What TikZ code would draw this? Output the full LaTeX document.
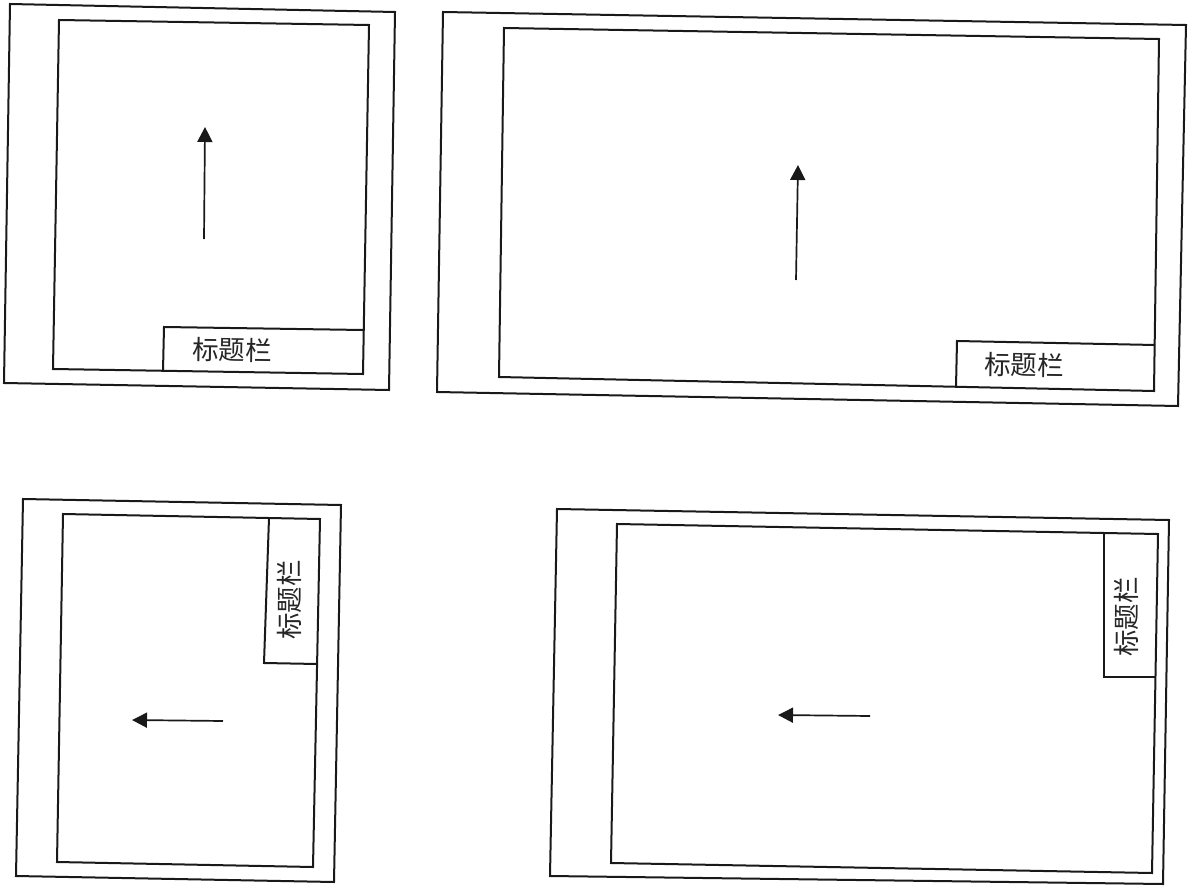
\documentclass[tikz,border=0pt]{standalone}
\usepackage{fontspec}
\newfontfamily\cjk{Noto Sans CJK SC}
\usetikzlibrary{arrows.meta}
\begin{document}
\begin{tikzpicture}[x=1pt,y=-1pt,
  frame/.style={draw=black!90, line width=2pt, line join=miter},
  dirarrow/.style={draw=black!90, line width=1.7pt, -{Triangle[width=15pt,length=15pt]}},
  titletext/.style={font=\cjk\fontsize{26.5}{26.5}\selectfont, inner sep=0pt, text=black!85}]
\useasboundingbox[fill=white] (0,0) rectangle (1189,896);

% ---------- Frame 1 (top left) ----------
\draw[frame] (10,4) -- (395,12) -- (389,390) -- (4,383) -- cycle;
\draw[frame] (59,20) -- (369,25) -- (363,374) -- (53,369) -- cycle;
\draw[frame] (163,371) -- (164,327) -- (363,330);
\node[titletext, rotate=-0.8] (t1) at (232,350) {标题栏};
\coordinate (a1s) at (204,239);
\coordinate (a1e) at (205,127);
\draw[dirarrow] (a1s) -- (a1e);

% ---------- Frame 2 (top right) ----------
\draw[frame] (443,12) -- (1186,25) -- (1178,406) -- (437,392) -- cycle;
\draw[frame] (504,28) -- (1159,39) -- (1154,391) -- (499,377) -- cycle;
\draw[frame] (956,387) -- (957,341) -- (1155,345);
\node[titletext, rotate=-0.8] (t2) at (1024,365) {标题栏};
\coordinate (a2s) at (796,280);
\coordinate (a2e) at (798,165);
\draw[dirarrow] (a2s) -- (a2e);

% ---------- Frame 3 (bottom left) ----------
\draw[frame] (23,499) -- (341,505) -- (334,882) -- (16,876) -- cycle;
\draw[frame] (63,514) -- (320,519) -- (313,867) -- (57,862) -- cycle;
\draw[frame] (269,518) -- (264,663) -- (317,664);
\node[titletext, rotate=90] (t3) at (289,600) {标题栏};
\coordinate (a3s) at (223,721);
\coordinate (a3e) at (132,720);
\draw[dirarrow] (a3s) -- (a3e);

% ---------- Frame 4 (bottom right) ----------
\draw[frame] (557,509) -- (1169,520) -- (1163,884) -- (550,876) -- cycle;
\draw[frame] (617,524) -- (1158,534) -- (1152,873) -- (611,863) -- cycle;
\draw[frame] (1104,533) -- (1104,677) -- (1155,677);
\node[titletext, rotate=90] (t4) at (1126,617) {标题栏};
\coordinate (a4s) at (870,716);
\coordinate (a4e) at (778,715);
\draw[dirarrow] (a4s) -- (a4e);
\end{tikzpicture}
\end{document}
